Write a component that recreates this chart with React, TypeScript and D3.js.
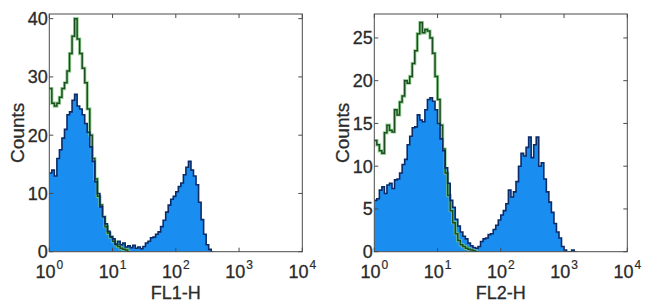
import React from "react";
import * as d3 from "d3";

// bins: log10 channel = k * BIN_STEP (k = 0,1,2,...)
const BIN_STEP = 0.04;

// Left panel (FL1-H)
const fl1Stained = [
  13.5, 14, 13, 16, 17.5, 19.5, 21, 23.5, 24, 26, 27, 25, 24.5, 23.5, 22, 20.5,
  18, 15.5, 12, 10, 7.7, 6, 4.8, 3.5, 2.6, 2.2, 1.3, 1.8, 1.2, 1.5, 0.8, 1,
  0.7, 1.1, 0.6, 0.8, 0.5, 0.9, 1.5, 1.8, 2.4, 2.5, 3, 3.4, 4.3, 5.4, 6.8, 8,
  9, 9.5, 10.3, 11.2, 11.8, 13.2, 14.5, 15.5, 14, 13, 11.5, 8.5, 5.5, 3, 1.2, 0.4,
  0,
];
const fl1Control = [
  28, 25.5, 25, 25.5, 26.5, 28, 29, 31, 34, 37, 40, 36.5, 34, 31.5, 29, 24.5,
  20, 16, 12.5, 9.5, 8, 6, 4.3, 3.2, 2.5, 1.8, 1.2, 0.9, 0.6, 0.4, 0.3, 0,
];

// Right panel (FL2-H)
const fl2Stained = [
  6, 6.2, 7.2, 7.6, 6.8, 7.8, 8, 7.4, 8.4, 8.5, 9.2, 10.2, 10.8, 12.5, 13.5, 14.5,
  14.6, 16, 15.4, 15.2, 16.6, 17.8, 18, 17.6, 16.6, 15, 13.2, 11.8, 9.8, 8, 6, 5.2,
  3.8, 3, 2.3, 1.8, 1.5, 1, 0.7, 0.5, 0.4, 0.6, 1.2, 1.5, 1.6, 2, 2.1, 2.6,
  3.1, 3.7, 4.3, 4.8, 5.6, 7.2, 6.4, 7, 8.2, 10, 11.5, 11.2, 12.2, 13.4, 11, 12.5,
  13.4, 10, 10.4, 8.5, 7, 5.8, 4.6, 3.3, 2.3, 1.6, 0.6, 0.2, 0, 0, 0.2, 0,
];
const fl2Control = [
  13, 12.5, 11.8, 11.5, 13.9, 14.8, 14.2, 14, 16.6, 16, 17.5, 18.2, 20, 19.7, 20.5, 22,
  23.5, 25.5, 26.8, 25.6, 26, 25.8, 25, 23.2, 20.5, 17.8, 14.8, 12, 9.2, 6.6, 4.8, 3.4,
  2.1, 1.3, 0.8, 0.6, 0.4, 0.3, 0.2, 0.1, 0,
];

const xTickExps = [0, 1, 2, 3, 4];
const leftYTicks = [0, 10, 20, 30, 40];
const rightYTicks = [0, 5, 10, 15, 20, 25];

const FONT = "'Liberation Sans', Arial, Helvetica, sans-serif";
const TXT = "#2a2a2a";

type PanelProps = {
  left: number;
  stained: number[];
  control: number[];
  yMax: number;
  yTicks: number[];
  xLabel: string;
};

function Panel({ left, stained, control, yMax, yTicks, xLabel }: PanelProps) {
  const top = 14;
  const width = 253;
  const height = 237.7;
  const x = d3.scaleLog().domain([1, 1e4]).range([left, left + width]);
  const y = d3.scaleLinear().domain([0, yMax]).range([top + height, top]);

  const toPts = (vals: number[]) => {
    const pts: [number, number][] = vals.map((v, k) => [Math.pow(10, k * BIN_STEP), v]);
    pts.push([Math.pow(10, vals.length * BIN_STEP), vals[vals.length - 1]]);
    return pts;
  };

  const area = d3
    .area<[number, number]>()
    .x((d) => x(d[0]))
    .y0(y(0))
    .y1((d) => y(d[1]))
    .curve(d3.curveStepAfter);
  const line = d3
    .line<[number, number]>()
    .x((d) => x(d[0]))
    .y((d) => y(d[1]))
    .curve(d3.curveStepAfter);

  const sPts = toPts(stained);
  const cPts = toPts(control);
  const clipId = `clip-${Math.round(left)}`;
  const tickLen = 4;
  const bottom = top + height;

  return (
    <g>
      <defs>
        <clipPath id={clipId}>
          <rect x={left} y={top} width={width} height={height} />
        </clipPath>
      </defs>
      <g clipPath={`url(#${clipId})`}>
        <path d={area(sPts) || ""} fill="#1a8ef0" />
        <path d={line(cPts) || ""} fill="none" stroke="#7cc67c" strokeWidth={3.2} strokeOpacity={0.8} />
        <path d={line(cPts) || ""} fill="none" stroke="#1c4f1f" strokeWidth={1.5} />
        <path d={line(sPts) || ""} fill="none" stroke="#0c2a66" strokeWidth={1.6} />
      </g>
      <rect x={left} y={top} width={width} height={height} fill="none" stroke="#4a4a4a" strokeWidth={1} />
      {yTicks.map((t) => (
        <g key={`y${t}`}>
          <line x1={left} x2={left + tickLen} y1={y(t)} y2={y(t)} stroke="#4a4a4a" />
          <line x1={left + width} x2={left + width - tickLen} y1={y(t)} y2={y(t)} stroke="#4a4a4a" />
          <text
            x={left - 1.5}
            y={y(t) + 6.5}
            textAnchor="end"
            fontFamily={FONT}
            fontSize={18}
            fill={TXT}
            stroke={TXT}
            strokeWidth={0.3}
          >
            {t}
          </text>
        </g>
      ))}
      {xTickExps.map((e) => {
        const xp = x(Math.pow(10, e));
        return (
          <g key={`x${e}`}>
            <line x1={xp} x2={xp} y1={top} y2={top + tickLen} stroke="#4a4a4a" />
            <line x1={xp} x2={xp} y1={bottom} y2={bottom - tickLen} stroke="#4a4a4a" />
            <text
              x={xp}
              y={278}
              textAnchor="middle"
              fontFamily={FONT}
              fontSize={18}
              fill={TXT}
              stroke={TXT}
              strokeWidth={0.3}
            >
              10
              <tspan fontSize={12} dy={-9} dx={1} strokeWidth={0.2}>
                {e}
              </tspan>
            </text>
          </g>
        );
      })}
      <text
        x={left + width / 2}
        y={299}
        textAnchor="middle"
        fontFamily={FONT}
        fontSize={18}
        fill={TXT}
        stroke={TXT}
        strokeWidth={0.3}
      >
        {xLabel}
      </text>
      <text
        transform={`translate(${left - 32},${top + height / 2}) rotate(-90)`}
        textAnchor="middle"
        dominantBaseline="central"
        fontFamily={FONT}
        fontSize={19}
        fill={TXT}
        stroke={TXT}
        strokeWidth={0.3}
      >
        Counts
      </text>
    </g>
  );
}

export default function App() {
  return (
    <svg
      width={650}
      height={308}
      style={{ position: "absolute", left: 0, top: 0, background: "#fff" }}
    >
      <rect width={650} height={308} fill="#fff" />
      <Panel left={49.3} stained={fl1Stained} control={fl1Control} yMax={40.8} yTicks={leftYTicks} xLabel="FL1-H" />
      <Panel left={374.3} stained={fl2Stained} control={fl2Control} yMax={27.8} yTicks={rightYTicks} xLabel="FL2-H" />
    </svg>
  );
}
